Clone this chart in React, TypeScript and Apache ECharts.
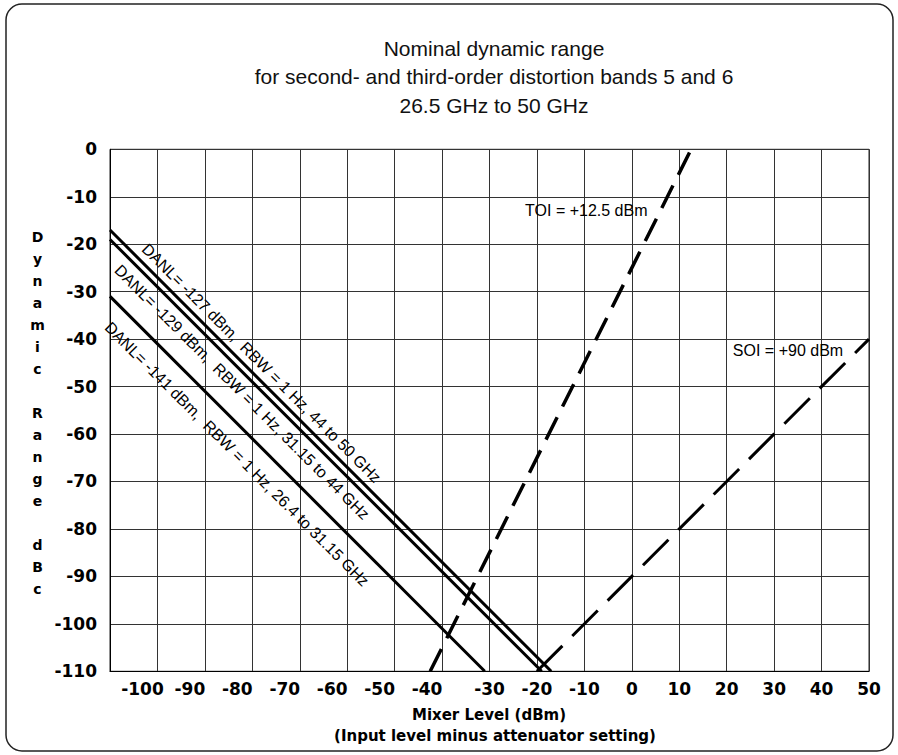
import React, { useEffect, useRef } from "react";
import * as echarts from "echarts";

// ---- data ----
const titleLines = [
  "Nominal dynamic range",
  "for second- and third-order distortion bands 5 and 6",
  "26.5 GHz to 50 GHz",
];
const xAxisTitle = "Mixer Level (dBm)";
const xAxisSubtitle = "(Input level minus attenuator setting)";
const yAxisTitle = "Dynamic Range dBc";

const xMin = -110;
const xMax = 50;
const yMin = -110;
const yMax = 0;
const tickStep = 10;
// x tick labels that sit left of their grid lines in the original
const shiftedXLabels = [-100, -90, -80, -70, -60, -50, -40];

const danl127: [number, number][] = [[-110, -17], [-17, -110]];
const danl129: [number, number][] = [[-110, -19], [-19, -110]];
const danl141: [number, number][] = [[-110, -31], [-31, -110]];
const toiLine: [number, number][] = [[-42.5, -110], [12.5, 0]];
const soiLine: [number, number][] = [[-20, -110], [50, -40]];

const danlLabelTexts = [
  "DANL= -127 dBm,  RBW = 1 Hz, 44 to 50 GHz",
  "DANL= -129 dBm,  RBW = 1 Hz, 31.15 to 44 GHz",
  "DANL= -141 dBm,  RBW = 1 Hz, 26.4 to 31.15 GHz",
];
const danlLabelAnchors: [number, number][] = [[-80, -47], [-80, -49], [-80, -61]];
const toiLabel = "TOI = +12.5 dBm";
const toiLabelAt: [number, number] = [-22.5, -12.8];
const soiLabel = "SOI = +90 dBm";
const soiLabelAt: [number, number] = [21.3, -42.3];

const W = 898;
const H = 755;

export default function App() {
  const ref = useRef<HTMLDivElement>(null);

  useEffect(() => {
    if (!ref.current) return;
    const chart = echarts.init(ref.current, null, { renderer: "svg", width: W, height: H });

    const lineSeries = (name: string, data: [number, number][], width: number, type: any) => ({
      name,
      type: "line",
      data,
      symbol: "none",
      showSymbol: false,
      silent: true,
      z: 5,
      lineStyle: { color: "#000", width, type, cap: "butt" },
    });

    const tickFont = {
      fontFamily: "'DejaVu Sans', sans-serif",
      fontWeight: "bold" as const,
      fontSize: 17,
      color: "#000",
    };

    chart.setOption({
      animation: false,
      backgroundColor: "#fff",
      grid: {
        left: 110,
        right: 29,
        top: 149.3,
        bottom: 83.7,
        show: true,
        borderColor: "#222",
        borderWidth: 1,
        backgroundColor: "transparent",
      },
      xAxis: {
        type: "value",
        min: xMin,
        max: xMax,
        interval: tickStep,
        axisLine: { show: true, onZero: false, lineStyle: { color: "#000", width: 1 } },
        axisTick: { show: false },
        splitLine: { show: true, lineStyle: { color: "#333", width: 1 } },
        axisLabel: {
          ...tickFont,
          margin: 9,
          showMinLabel: false,
          formatter: (v: number) => {
            if (v === xMin) return "";
            if (shiftedXLabels.includes(v)) return "{s|" + v + "}";
            return String(v);
          },
          rich: {
            s: { ...tickFont, padding: [0, 30, 0, 0] },
          },
        },
      },
      yAxis: {
        type: "value",
        min: yMin,
        max: yMax,
        interval: tickStep,
        axisLine: { show: true, onZero: false, lineStyle: { color: "#000", width: 1 } },
        axisTick: { show: false },
        splitLine: { show: true, lineStyle: { color: "#333", width: 1 } },
        axisLabel: { ...tickFont, margin: 13, padding: [5, 0, 0, 0] },
      },
      series: [
        lineSeries("DANL -127", danl127, 3, "solid"),
        lineSeries("DANL -129", danl129, 3, "solid"),
        lineSeries("DANL -141", danl141, 3, "solid"),
        lineSeries("TOI", toiLine, 3.5, [25, 12]),
        lineSeries("SOI", soiLine, 3, [36, 14]),
      ],
    });

    const px = (p: [number, number]) =>
      chart.convertToPixel({ xAxisIndex: 0, yAxisIndex: 0 }, p) as number[];

    const labelFont = "16px 'Liberation Sans', Arial, sans-serif";
    const perpOffsets = [13, -14.6, -21.7]; // + = above-right, - = below-left
    const danlGraphics = danlLabelTexts.map((t, i) => {
      const p = px(danlLabelAnchors[i]);
      const d = perpOffsets[i] / Math.SQRT2;
      return {
        type: "text",
        x: p[0] + d,
        y: p[1] - d,
        rotation: -Math.PI / 4,
        z: 10,
        style: {
          text: t,
          font: labelFont,
          fill: "#000",
          textAlign: "center",
          textVerticalAlign: "middle",
        },
      };
    });
    const tp = px(toiLabelAt);
    const sp = px(soiLabelAt);

    const yLetters = [];
    for (const ch of yAxisTitle) yLetters.push(ch === " " ? "" : ch);

    chart.setOption({
      graphic: [
        {
          type: "rect",
          shape: { x: 6, y: 4, width: 887, height: 747, r: 16 },
          style: { fill: "none", stroke: "#222", lineWidth: 1.5 },
          z: 0,
        },
        {
          type: "text",
          x: 494,
          y: 34,
          style: {
            text: titleLines.join("\n"),
            font: "21px 'Liberation Sans', Arial, sans-serif",
            lineHeight: 28.5,
            fill: "#111",
            textAlign: "center",
            textVerticalAlign: "top",
          },
        },
        {
          type: "text",
          x: 37.5,
          y: 226,
          style: {
            text: yLetters.join("\n"),
            font: "bold 14px 'DejaVu Sans', sans-serif",
            lineHeight: 22,
            fill: "#000",
            textAlign: "center",
            textVerticalAlign: "top",
          },
        },
        {
          type: "text",
          x: 489,
          y: 715,
          style: {
            text: xAxisTitle,
            font: "bold 15px 'DejaVu Sans', sans-serif",
            fill: "#000",
            textAlign: "center",
            textVerticalAlign: "middle",
          },
        },
        {
          type: "text",
          x: 495,
          y: 736,
          style: {
            text: xAxisSubtitle,
            font: "bold 15px 'DejaVu Sans', sans-serif",
            fill: "#000",
            textAlign: "center",
            textVerticalAlign: "middle",
          },
        },
        {
          type: "text",
          x: tp[0],
          y: tp[1],
          z: 10,
          style: { text: toiLabel, font: labelFont, fill: "#000", textAlign: "left", textVerticalAlign: "middle" },
        },
        {
          type: "text",
          x: sp[0],
          y: sp[1],
          z: 10,
          style: { text: soiLabel, font: labelFont, fill: "#000", textAlign: "left", textVerticalAlign: "middle" },
        },
        ...danlGraphics,
      ],
    });

    return () => chart.dispose();
  }, []);

  return (
    <div
      ref={ref}
      style={{ position: "absolute", left: 0, top: 0, width: W, height: H, background: "#fff" }}
    />
  );
}
